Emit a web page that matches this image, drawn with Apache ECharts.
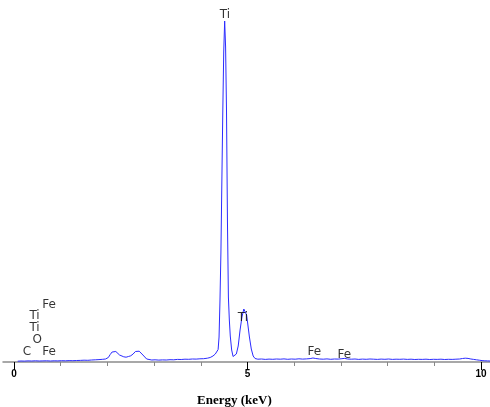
<!DOCTYPE html>
<html>
<head>
<meta charset="utf-8">
<script src="https://cdn.jsdelivr.net/npm/echarts@6/dist/echarts.min.js"></script>
<style>html,body{margin:0;padding:0;background:#fff;}#c{width:490px;height:407px;}</style>
</head>
<body>
<div id="c"></div>
<script>
// Energy (keV) and counts
const energies = [0.08,0.15,0.22,0.30,0.38,0.46,0.54,0.62,0.70,0.78,0.86,0.94,1.02,1.10,1.18,1.26,1.34,1.42,1.50,1.58,1.66,1.74,1.82,1.90,1.96,2.02,2.06,2.10,2.14,2.18,2.22,2.26,2.30,2.35,2.40,2.45,2.50,2.55,2.60,2.64,2.68,2.72,2.76,2.80,2.84,2.88,2.95,3.02,3.10,3.18,3.26,3.34,3.42,3.50,3.58,3.66,3.74,3.82,3.90,3.98,4.06,4.14,4.20,4.26,4.31,4.34,4.37,4.39,4.41,4.43,4.45,4.47,4.49,4.51,4.53,4.55,4.57,4.59,4.61,4.63,4.66,4.69,4.72,4.76,4.80,4.84,4.88,4.92,4.95,4.98,5.01,5.04,5.08,5.12,5.16,5.22,5.30,5.38,5.46,5.54,5.62,5.70,5.78,5.86,5.94,6.02,6.10,6.18,6.26,6.34,6.40,6.46,6.54,6.62,6.70,6.78,6.86,6.94,7.02,7.08,7.14,7.22,7.30,7.38,7.46,7.54,7.62,7.70,7.78,7.86,7.94,8.02,8.10,8.18,8.26,8.34,8.42,8.50,8.58,8.66,8.74,8.82,8.90,8.98,9.06,9.14,9.22,9.30,9.38,9.46,9.54,9.60,9.66,9.72,9.78,9.84,9.90,9.96,10.02,10.08,10.14,10.19];
const counts = [8,10,9,11,10,12,10,11,12,10,12,11,13,12,14,13,15,16,18,17,20,22,24,27,30,45,75,100,113,105,90,70,50,52,48,55,62,80,105,100,108,92,70,55,30,22,20,22,19,21,20,23,22,26,25,28,27,30,29,32,33,38,45,60,80,95,125,250,620,1100,1800,2500,3100,3410,3150,2500,1400,650,420,260,120,55,48,80,160,320,450,530,545,470,360,250,130,60,35,28,30,26,29,27,30,28,31,27,30,28,32,29,31,34,40,35,30,28,31,27,30,29,33,36,30,28,30,26,29,27,30,28,26,29,27,30,26,28,27,29,26,28,25,27,26,28,25,27,26,28,25,27,26,28,30,35,38,36,30,26,22,18,14,12,11,10];

// Peak annotations: label, energy, count position
const peakLabels = ['Ti','Ti','Fe','Fe','Fe','Ti','Ti','O','C','Fe'];
const peakEnergies = [4.514,4.90,6.43,7.07,0.75,0.44,0.44,0.50,0.28,0.75];
const peakCounts = [3470,440,105,70,570,460,345,220,100,100];

const majorTicks = [0,5,10];
const minorTicks = [1,2,3,4,6,7,8,9];

const lineData = energies.map((e,i)=>[e,counts[i]]);
const labelData = peakLabels.map((t,i)=>({value:[peakEnergies[i],peakCounts[i]], name:t}));

const chart = echarts.init(document.getElementById('c'), null, {renderer:'canvas'});
chart.setOption({
  animation:false,
  backgroundColor:'#fff',
  title:{
    text:'Energy (keV)', left:192, top:389,
    textStyle:{fontFamily:'Liberation Serif', fontWeight:'bold', fontSize:13, color:'#000'}
  },
  grid:{left:3, right:0, top:11, bottom:45, containLabel:false},
  xAxis:[{
    type:'value', min:-0.235, max:10.19, position:'bottom',
    axisLine:{show:true, lineStyle:{color:'#8c8c8c', width:1.5}},
    axisTick:{show:true, customValues:majorTicks, length:8, lineStyle:{color:'#000', width:1}},
    axisLabel:{show:true, customValues:majorTicks, margin:7, fontFamily:'Arial, Liberation Sans', fontWeight:'bold', fontSize:10, color:'#000'},
    splitLine:{show:false}
  },{
    type:'value', min:-0.235, max:10.19, position:'bottom', offset:0,
    axisLine:{show:false},
    axisTick:{show:true, customValues:minorTicks, length:4, lineStyle:{color:'#888', width:1}},
    axisLabel:{show:false},
    splitLine:{show:false}
  }],
  yAxis:{type:'value', min:0, max:3510, show:false, splitLine:{show:false}},
  series:[{
    type:'line', xAxisIndex:0, data:lineData, showSymbol:false, symbol:'none',
    lineStyle:{color:'#2b2bff', width:1}, itemStyle:{color:'#2b2bff'}, z:2
  },{
    type:'scatter', xAxisIndex:0, data:labelData, symbolSize:1,
    itemStyle:{color:'rgba(0,0,0,0)'},
    label:{show:true, position:'inside', formatter:'{b}',
      fontFamily:'DejaVu Sans', fontSize:12, color:'#000'},
    z:3
  }]
});
</script>
</body>
</html>
